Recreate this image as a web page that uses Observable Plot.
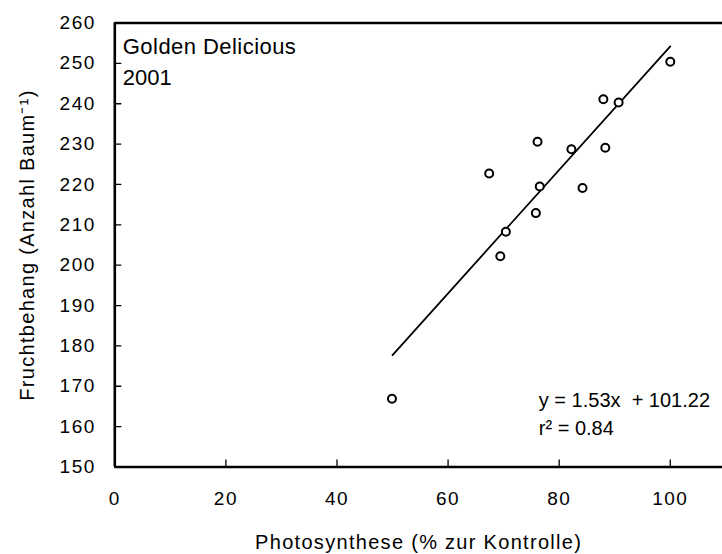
<!DOCTYPE html>
<html><head><meta charset="utf-8">
<script src="https://cdn.jsdelivr.net/npm/d3@7"></script>
<script src="https://cdn.jsdelivr.net/npm/@observablehq/plot@0.6"></script>
<style>
body{margin:0;background:#fff;}
#chart svg{display:block;}
g[aria-label="x-axis tick label"] text, g[aria-label="y-axis tick label"] text {letter-spacing:1.5px;}
</style></head><body><div id="chart"></div>
<script>
// Data
const photosynthese = [49.9, 67.4, 69.4, 70.4, 75.8, 76.1, 76.5, 82.2, 84.2, 87.95, 88.3, 90.7, 100.0];
const fruchtbehang  = [166.9, 222.7, 202.2, 208.3, 212.9, 230.6, 219.5, 228.7, 219.1, 241.1, 229.1, 240.3, 250.4];
const xTicks = [0, 20, 40, 60, 80, 100];
const yTicks = [150, 160, 170, 180, 190, 200, 210, 220, 230, 240, 250, 260];
// regression stated on the chart
const fitSlope = 1.53, fitIntercept = 101.22;
const fitXRange = [50, 100];
const titleLine1 = "Golden Delicious";
const titleLine2 = "2001";
const eqText = "y = 1.53x  + 101.22";
const r2Text = "r\u00B2 = 0.84";
const xLabel = "Photosynthese (% zur Kontrolle)";
const yLabel = "Fruchtbehang (Anzahl Baum\u207B\u00B9)";

const points = photosynthese.map((x, i) => ({x, y: fruchtbehang[i]}));
const fitLine = fitXRange.map(x => ({x, y: fitSlope * x + fitIntercept}));

const tickShape = {draw(context, l) { context.moveTo(0, 0); context.lineTo(0, -l); }};
const font = "'Liberation Sans', Arial, sans-serif";

const chart = Plot.plot({
  width: 722,
  height: 554,
  marginLeft: 114.3,
  marginRight: 0,
  marginTop: 22.5,
  marginBottom: 87.5,
  style: {fontFamily: font, background: "#fff", color: "#000"},
  x: {domain: [0, 109.4]},
  y: {domain: [150, 260]},
  marks: [
    Plot.axisX(xTicks, {tickSize: 0, tickPadding: 24, fontSize: 19, label: null}),
    Plot.axisY(yTicks, {tickSize: 0, tickPadding: 19, fontSize: 19, label: null}),
    Plot.vector(yTicks, {x: 0, y: d => d, rotate: 90, length: 6, anchor: "start", shape: tickShape, stroke: "#000", strokeWidth: 1.3}),
    Plot.vector(xTicks, {x: d => d, y: 150, rotate: 0, length: 7, anchor: "start", shape: tickShape, stroke: "#000", strokeWidth: 1.3}),
    Plot.ruleY([150, 260], {stroke: "#000", strokeWidth: 2.4}),
    Plot.ruleX([0], {stroke: "#000", strokeWidth: 2.6}),
    Plot.line(fitLine, {x: "x", y: "y", stroke: "#000", strokeWidth: 1.8}),
    Plot.dot(points, {x: "x", y: "y", r: 4, stroke: "#000", strokeWidth: 2, fill: "#fff"}),
    Plot.text([titleLine1], {frameAnchor: "top-left", dx: 8, dy: 31, lineAnchor: "bottom", textAnchor: "start", fontSize: 22, fill: "#000"}),
    Plot.text([titleLine2], {frameAnchor: "top-left", dx: 8, dy: 62, lineAnchor: "bottom", textAnchor: "start", fontSize: 22, fill: "#000"}),
    Plot.text([eqText], {frameAnchor: "bottom-left", dx: 424, dy: -60, lineAnchor: "bottom", textAnchor: "start", fontSize: 20, fill: "#000"}),
    Plot.text([r2Text], {frameAnchor: "bottom-left", dx: 424, dy: -32, lineAnchor: "bottom", textAnchor: "start", fontSize: 20, fill: "#000"}),
    Plot.text([xLabel], {frameAnchor: "bottom", dy: 82, lineAnchor: "bottom", textAnchor: "middle", fontSize: 20, fill: "#000"}),
    Plot.text([yLabel], {frameAnchor: "left", dx: -81, rotate: -90, lineAnchor: "bottom", textAnchor: "middle", fontSize: 20, fill: "#000"})
  ]
});
// letter spacing as in the reference's rendering
d3.select(chart).selectAll("text").each(function() {
  const t = this.textContent;
  if (t === xLabel || t === yLabel) this.style.letterSpacing = "1.3px";
  if (t === titleLine1) this.style.letterSpacing = "0.45px";
});
document.getElementById("chart").appendChild(chart);
</script>
</body></html>
